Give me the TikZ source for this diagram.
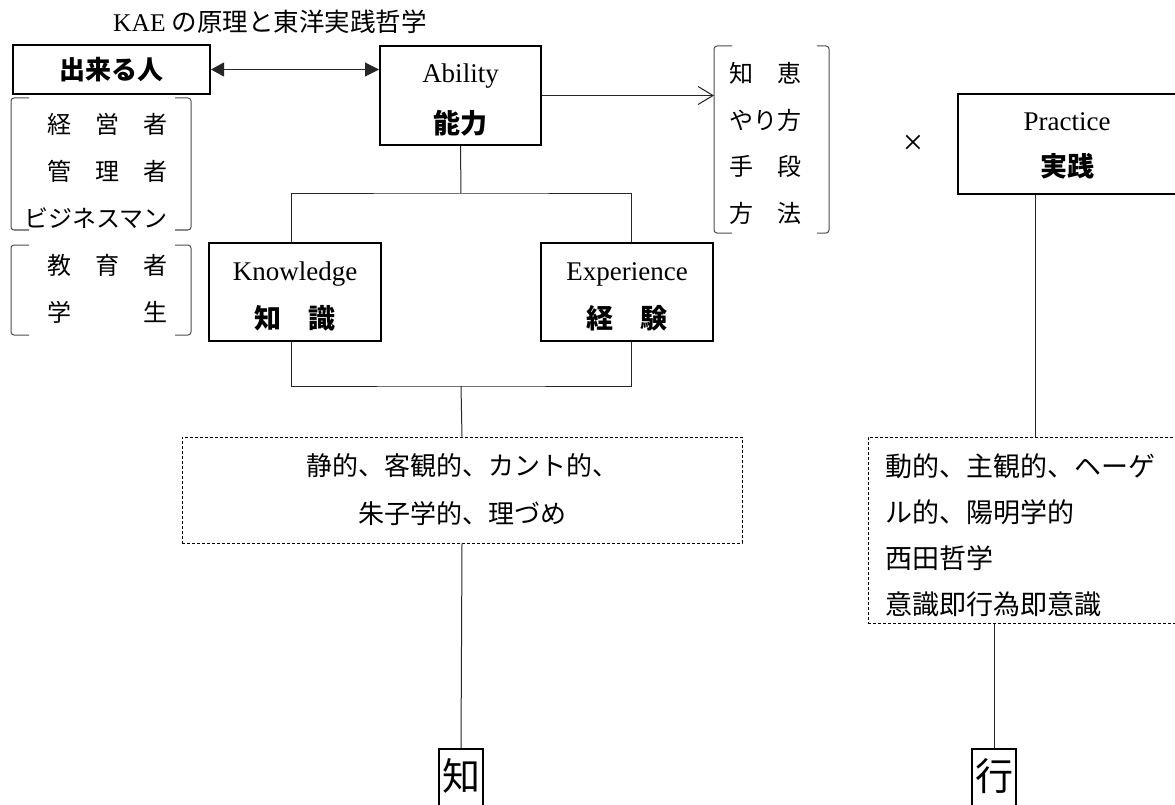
\documentclass[tikz,border=0pt]{standalone}
\usepackage{fontspec}
\setmainfont{Liberation Serif}
\newfontfamily\cjk{Noto Sans CJK JP}
\usetikzlibrary{arrows.meta}
\newcommand{\lift}{\rule{0pt}{27pt}}
\begin{document}
\begin{tikzpicture}[x=1pt,y=-1pt,
  tbox/.style={draw, line width=2pt, inner sep=0pt, align=center},
  dbox/.style={draw, line width=0.8pt, dash pattern=on 3pt off 2pt, inner sep=0pt},
  conn/.style={line width=1pt, draw=black!85},
  brk/.style={line width=1pt, draw=black!70, rounded corners=3pt},
  jp/.style={font=\cjk\fontsize{24}{24}\selectfont, inner sep=0pt},
  two/.style={font=\fontsize{27}{48}\selectfont},
  big/.style={font=\cjk\fontsize{38}{38}\selectfont, inner sep=0pt}
]
\useasboundingbox (0,0) rectangle (1175,805);

% title
\node[font=\fontsize{25.5}{25.5}\selectfont, anchor=west, inner sep=0pt] (title) at (113,22) {KAE {\cjk の原理と東洋実践哲学}};

% main boxes
\node[tbox, minimum width=197pt, minimum height=49pt, font=\cjk\bfseries\fontsize{26}{26}\selectfont] (person) at (111.5,69.5) {出来る人};
\node[tbox, font=\fontsize{27}{51}\selectfont, minimum width=161pt, minimum height=99pt] (ability) at (460.5,95.5) {\lift Ability\\{\cjk\bfseries\fontsize{27}{51}\selectfont 能力}};
\node[tbox, two, minimum width=172pt, minimum height=98pt] (knowledge) at (295,292) {\lift Knowledge\\{\cjk\bfseries 知　識}};
\node[tbox, two, minimum width=172pt, minimum height=98pt] (experience) at (627,292) {\lift Experience\\{\cjk\bfseries 経　験}};
\node[tbox, font=\fontsize{27}{46}\selectfont, minimum width=218pt, minimum height=100pt] (practice) at (1067,144) {\rule{0pt}{22pt}Practice\\{\cjk\bfseries 実践}};

\node[font=\fontsize{36}{36}\selectfont, inner sep=0pt] (times) at (913,145) {×};

% left lists
\node[jp, anchor=east] (l1a) at (168,124) {経　営　者};
\node[jp, anchor=east] (l1b) at (168,171) {管　理　者};
\node[jp, anchor=east] (l1c) at (168,218) {ビジネスマン};
\draw[brk] (29,98) -- (11,98) -- (11,230) -- (29,230);
\draw[brk] (175,98) -- (191,98) -- (191,230) -- (175,230);

\node[jp, anchor=east] (l2a) at (168,265) {教　育　者};
\node[jp, anchor=east] (l2b) at (168,312) {学　　　生};
\draw[brk] (29,245) -- (11,245) -- (11,335) -- (29,335);
\draw[brk] (175,245) -- (191,245) -- (191,335) -- (175,335);

% right list
\node[jp, anchor=west] (r1) at (729,73) {知　恵};
\node[jp, anchor=west] (r2) at (729,120) {やり方};
\node[jp, anchor=west] (r3) at (729,166) {手　段};
\node[jp, anchor=west] (r4) at (729,213) {方　法};
\draw[brk] (732,46) -- (714,46) -- (714,233) -- (732,233);
\draw[brk] (817,46) -- (829,46) -- (829,233) -- (817,233);
\coordinate (tl) at (714,97);

% dashed boxes
\node[dbox, minimum width=560pt, minimum height=106pt, align=center, font=\cjk\fontsize{26}{48}\selectfont] (d1) at (462,490) {静的、客観的、カント的、\\朱子学的、理づめ};
\node[dbox, minimum width=312pt, minimum height=186pt, anchor=north west] (d2) at (868,437) {};
\node[anchor=west, align=left, inner sep=0pt, font=\cjk\fontsize{27}{46}\selectfont] (d2t) at (885,535) {動的、主観的、ヘーゲ\\ル的、陽明学的\\西田哲学\\意識即行為即意識};

% bottom boxes
\node[draw, line width=2pt, minimum width=44pt, minimum height=80pt, anchor=north, inner sep=0pt] (zhi) at (461,748) {};
\node[big] (zhit) at (461,776) {知};
\node[draw, line width=2pt, minimum width=44pt, minimum height=80pt, anchor=north, inner sep=0pt] (gyo) at (994,748) {};
\node[big] (gyot) at (994,776) {行};

% connectors
\draw[conn, {Triangle[length=13pt,width=14pt]}-{Triangle[length=14pt,width=14pt]}] (person.east) -- (person.east -| ability.west);
\draw[conn, -{Straight Barb[length=15pt,width=18pt]}] (ability.east) -- (ability.east -| tl);

\coordinate (j1) at (461,194);
\coordinate (j2) at (461,386);
\draw[conn] (ability.south) -- (j1);
\draw[conn] ([xshift=-4pt]knowledge.north) |- (j1) -| ([xshift=4pt]experience.north);
\draw[conn] ([xshift=-4pt]knowledge.south) |- (j2) -| ([xshift=4pt]experience.south);
\draw[conn] (j2) -- (d1.north);
\draw[conn] (d1.south) -- (zhi.north);
\draw[conn] ([xshift=-32pt]practice.south) -- ([xshift=-32pt]practice.south |- d2.north);
\draw[conn] (gyo.north |- d2.south) -- (gyo.north);
\end{tikzpicture}
\end{document}
